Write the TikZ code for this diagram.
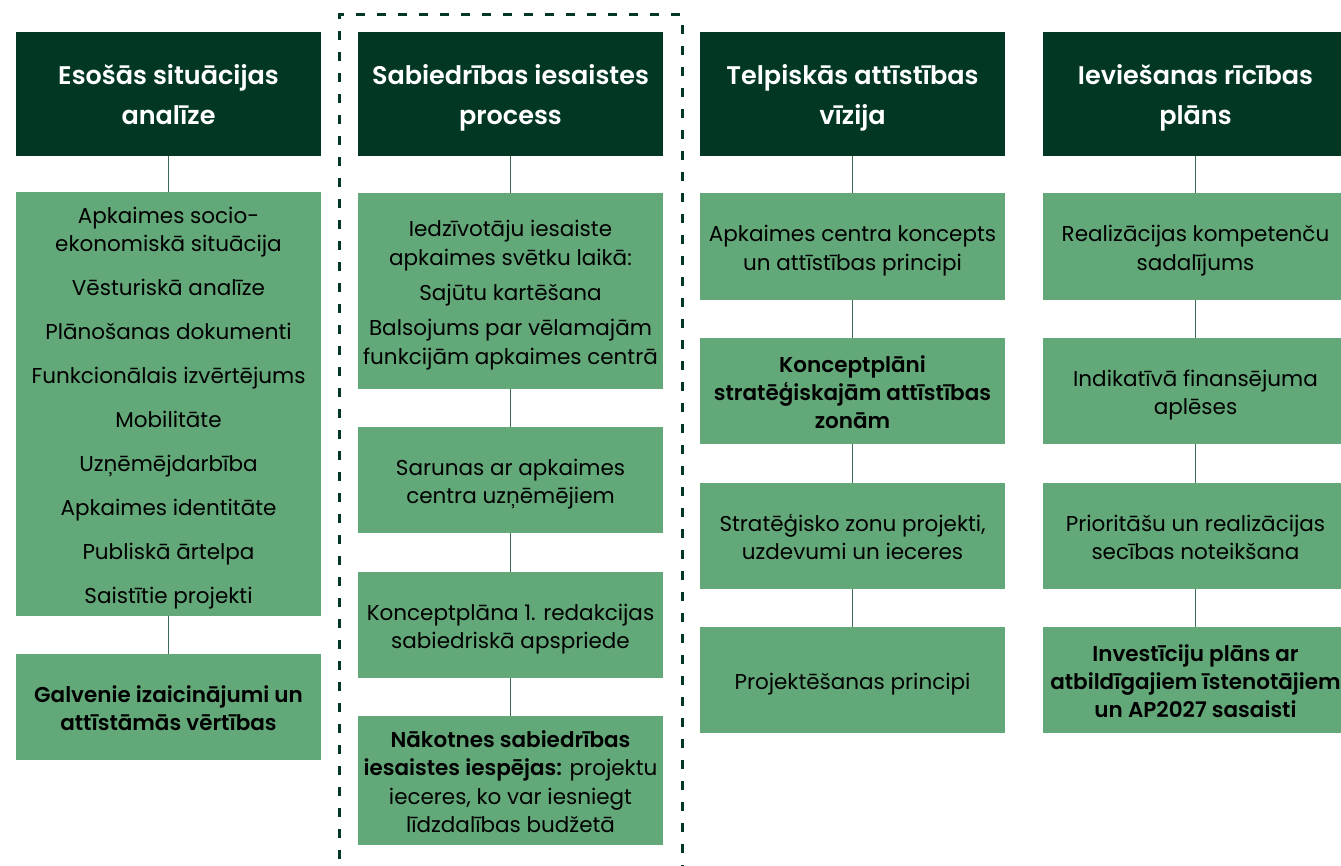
\documentclass[tikz,border=0pt]{standalone}
\usepackage{fontspec}
\setmainfont{Poppins}[BoldFont={Poppins SemiBold}]
\definecolor{dk}{HTML}{023823}
\definecolor{lg}{HTML}{62A878}
\definecolor{ln}{HTML}{3E6B55}
\newcommand\bdtop{\rule{0pt}{31pt}}
\newcommand\bdbot{\rule[-12pt]{0pt}{12pt}}
\newcommand\hdtop{\rule{0pt}{40pt}}
\newcommand\hdbot{\rule[-18pt]{0pt}{18pt}}
\begin{document}
\begin{tikzpicture}[x=1pt,y=-1pt,
  hdr/.style={fill=dk, text=white, minimum width=305pt, minimum height=124pt, inner sep=0pt, align=center,
    font=\fontsize{25.5}{40}\selectfont\bfseries},
  lbox/.style={fill=lg, text=black, minimum width=305pt, inner sep=0pt, align=center,
    font=\fontsize{21.5}{28.3}\selectfont},
  bbox/.style={lbox, font=\fontsize{21.5}{28.3}\selectfont\bfseries},
  conn/.style={draw=ln, line width=1.3pt}]
\useasboundingbox (0,0) rectangle (1341,866);
\fill[white] (0,0) rectangle (1341,866);
% dashed frame
\draw[dk, line width=3pt, dash pattern=on 9pt off 12pt] (339,880) -- (339,15) -- (682,15) -- (682,880);
% column 1
\node[hdr] (h1) at (168.5,94) {\hdtop Esošās situācijas\\analīze\hdbot};
\node[lbox, minimum height=422pt] (a1) at (168.5,404) {\bdtop Apkaimes socio-\\ekonomiskā situācija\\[15.7pt]Vēsturiskā analīze\\[15.7pt]Plānošanas dokumenti\\[15.7pt]Funkcionālais izvērtējums\\[15.7pt]Mobilitāte\\[15.7pt]Uzņēmējdarbība\\[15.7pt]Apkaimes identitāte\\[15.7pt]Publiskā ārtelpa\\[15.7pt]Saistītie projekti\bdbot};
\node[bbox, minimum height=106pt] (a2) at (168.5,707) {\bdtop Galvenie izaicinājumi un\\attīstāmās vērtības\bdbot};
% column 2
\node[hdr] (h2) at (510.5,94) {\hdtop Sabiedrības iesaistes\\process\hdbot};
\node[lbox, minimum height=196pt] (b1) at (510.5,291) {\bdtop Iedzīvotāju iesaiste\\apkaimes svētku laikā:\\[7pt]Sajūtu kartēšana\\[7pt]Balsojums par vēlamajām\\funkcijām apkaimes centrā\bdbot};
\node[lbox, minimum height=106pt] (b2) at (510.5,480) {\bdtop Sarunas ar apkaimes\\centra uzņēmējiem\bdbot};
\node[lbox, minimum height=106pt] (b3) at (510.5,625) {\bdtop Konceptplāna 1. redakcijas\\sabiedriskā apspriede\bdbot};
\node[lbox, minimum height=129pt] (b4) at (510.5,780.5) {\bdtop\textbf{Nākotnes sabiedrības}\\\textbf{iesaistes iespējas:} projektu\\ieceres, ko var iesniegt\\līdzdalības budžetā\bdbot};
% column 3
\node[hdr] (h3) at (852.5,94) {\hdtop Telpiskās attīstības\\vīzija\hdbot};
\node[lbox, minimum height=107pt] (c1) at (852.5,246.5) {\bdtop Apkaimes centra koncepts\\un attīstības principi\bdbot};
\node[bbox, minimum height=106pt] (c2) at (852.5,391) {\bdtop Konceptplāni\\stratēģiskajām attīstības\\zonām\bdbot};
\node[lbox, minimum height=106pt] (c3) at (852.5,536) {\bdtop Stratēģisko zonu projekti,\\uzdevumi un ieceres\bdbot};
\node[lbox, minimum height=106pt] (c4) at (852.5,680) {\bdtop Projektēšanas principi\bdbot};
% column 4
\node[hdr] (h4) at (1195.5,94) {\hdtop Ieviešanas rīcības\\plāns\hdbot};
\node[lbox, minimum height=107pt] (d1) at (1195.5,246.5) {\bdtop Realizācijas kompetenču\\sadalījums\bdbot};
\node[lbox, minimum height=106pt] (d2) at (1195.5,391) {\bdtop Indikatīvā finansējuma\\aplēses\bdbot};
\node[lbox, minimum height=106pt] (d3) at (1195.5,536) {\bdtop Prioritāšu un realizācijas\\secības noteikšana\bdbot};
\node[bbox, minimum height=106pt] (d4) at (1195.5,680) {\bdtop Investīciju plāns ar\\atbildīgajiem īstenotājiem\\un AP2027 sasaisti\bdbot};
% connectors
\draw[conn] (h1) -- (a1);
\draw[conn] (a1) -- (a2);
\draw[conn] (h2) -- (b1);
\draw[conn] (b1) -- (b2);
\draw[conn] (b2) -- (b3);
\draw[conn] (b3) -- (b4);
\draw[conn] (h3) -- (c1);
\draw[conn] (c1) -- (c2);
\draw[conn] (c2) -- (c3);
\draw[conn] (c3) -- (c4);
\draw[conn] (h4) -- (d1);
\draw[conn] (d1) -- (d2);
\draw[conn] (d2) -- (d3);
\draw[conn] (d3) -- (d4);
\end{tikzpicture}
\end{document}
